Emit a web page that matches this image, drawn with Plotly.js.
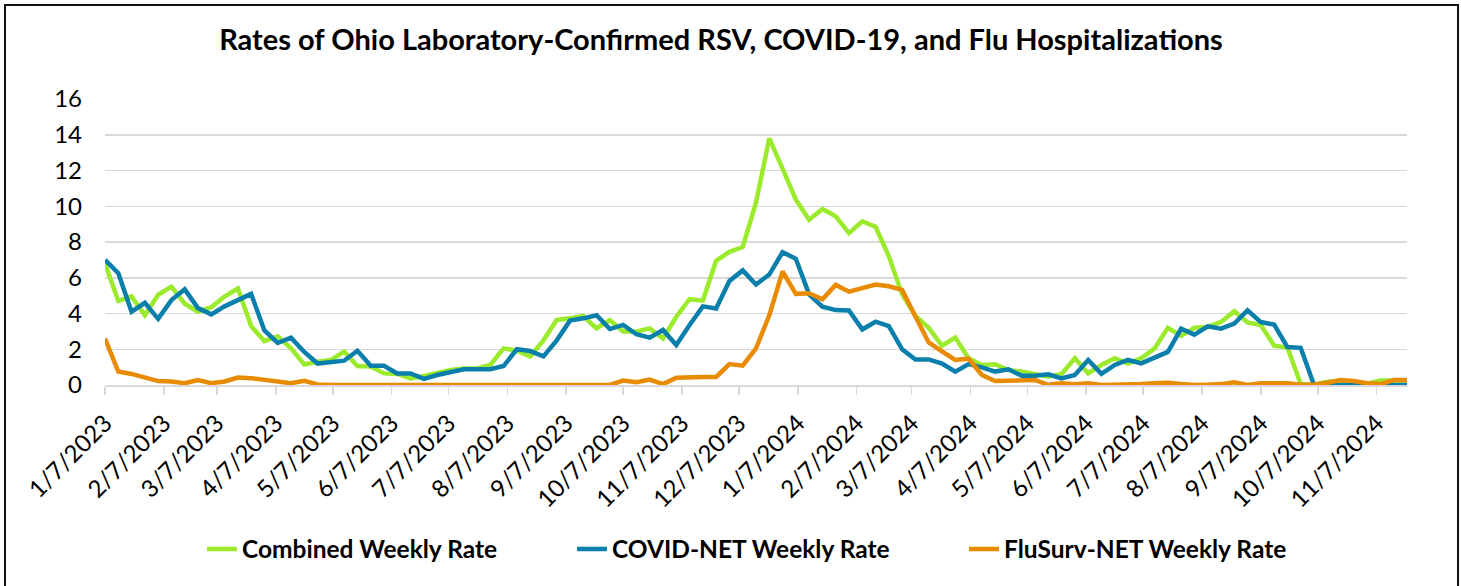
<!DOCTYPE html>
<html>
<head>
<meta charset="utf-8">
<script src="https://cdn.plot.ly/plotly-3.0.1.min.js"></script>
<style>
  html, body { margin: 0; padding: 0; background: #fff; overflow: hidden; }
  #wrap { position: relative; width: 1461px; height: 586px; }
  #chart { position: absolute; left: 0; top: 0; width: 1461px; height: 586px; }
  #frame { position: absolute; left: 4px; top: 4px; width: 1451px; height: 600px; border: 2px solid #111; pointer-events: none; }
</style>
</head>
<body>
<div id="wrap"><div id="chart"></div><div id="frame"></div></div>
<script>
const weekEnding = [
 '2023-01-07','2023-01-14','2023-01-21','2023-01-28','2023-02-04','2023-02-11','2023-02-18','2023-02-25',
 '2023-03-04','2023-03-11','2023-03-18','2023-03-25','2023-04-01','2023-04-08','2023-04-15','2023-04-22','2023-04-29',
 '2023-05-06','2023-05-13','2023-05-20','2023-05-27','2023-06-03','2023-06-10','2023-06-17','2023-06-24',
 '2023-07-01','2023-07-08','2023-07-15','2023-07-22','2023-07-29','2023-08-05','2023-08-12','2023-08-19','2023-08-26',
 '2023-09-02','2023-09-09','2023-09-16','2023-09-23','2023-09-30','2023-10-07','2023-10-14','2023-10-21','2023-10-28',
 '2023-11-04','2023-11-11','2023-11-18','2023-11-25','2023-12-02','2023-12-09','2023-12-16','2023-12-23','2023-12-30',
 '2024-01-06','2024-01-13','2024-01-20','2024-01-27','2024-02-03','2024-02-10','2024-02-17','2024-02-24',
 '2024-03-02','2024-03-09','2024-03-16','2024-03-23','2024-03-30','2024-04-06','2024-04-13','2024-04-20','2024-04-27',
 '2024-05-04','2024-05-11','2024-05-18','2024-05-25','2024-06-01','2024-06-08','2024-06-15','2024-06-22','2024-06-29',
 '2024-07-06','2024-07-13','2024-07-20','2024-07-27','2024-08-03','2024-08-10','2024-08-17','2024-08-24','2024-08-31',
 '2024-09-07','2024-09-14','2024-09-21','2024-09-28','2024-10-05','2024-10-12','2024-10-19','2024-10-26',
 '2024-11-02','2024-11-09','2024-11-16','2024-11-23'
];

const combinedRate = [
 6.8, 4.7, 4.95, 3.9, 5.05, 5.5, 4.55, 4.1, 4.35, 4.95,
 5.4, 3.3, 2.45, 2.72, 2.05, 1.15, 1.3, 1.4, 1.87, 1.06,
 1.03, 0.65, 0.62, 0.37, 0.5, 0.7, 0.84, 0.93, 0.93, 1.12,
 2.05, 1.92, 1.6, 2.5, 3.64, 3.73, 3.86, 3.17, 3.64, 3.0,
 3.0, 3.17, 2.6, 3.82, 4.8, 4.72, 6.95, 7.45, 7.72, 10.2,
 13.8, 12.1, 10.37, 9.25, 9.85, 9.44, 8.5, 9.16, 8.85, 7.2,
 5.07, 3.87, 3.2, 2.2, 2.65, 1.5, 1.12, 1.16, 0.84, 0.75,
 0.62, 0.47, 0.62, 1.5, 0.65, 1.12, 1.5, 1.2, 1.5, 2.05,
 3.2, 2.75, 3.2, 3.25, 3.53, 4.13, 3.5, 3.35, 2.2, 2.1,
 0.06, 0.02, 0.18, 0.22, 0.12, 0.07, 0.25, 0.25, 0.25
];

const covidRate = [
 7.0, 6.25, 4.1, 4.6, 3.7, 4.75, 5.35, 4.3, 3.95, 4.4,
 4.75, 5.1, 3.05, 2.35, 2.65, 1.85, 1.2, 1.27, 1.36, 1.92,
 1.08, 1.08, 0.65, 0.65, 0.34, 0.56, 0.75, 0.88, 0.88, 0.88,
 1.06, 2.0, 1.9, 1.6, 2.5, 3.6, 3.73, 3.9, 3.13, 3.36,
 2.84, 2.65, 3.08, 2.24, 3.36, 4.4, 4.28, 5.82, 6.41, 5.62,
 6.18, 7.43, 7.06, 5.07, 4.38, 4.19, 4.17, 3.11, 3.54, 3.3,
 2.0, 1.43, 1.43, 1.2, 0.75, 1.17, 0.99, 0.75, 0.88, 0.52,
 0.52, 0.6, 0.37, 0.56, 1.4, 0.62, 1.12, 1.4, 1.21, 1.5,
 1.85, 3.15, 2.82, 3.28, 3.15, 3.43, 4.18, 3.52, 3.38, 2.12,
 2.08, 0, 0, 0.02, 0.02, 0.02, 0, 0, 0
];

const fluRate = [
 2.6, 0.75, 0.62, 0.4, 0.22, 0.2, 0.1, 0.28, 0.1, 0.2,
 0.42, 0.38, 0.27, 0.16, 0.1, 0.23, 0.03, 0, 0, 0,
 0, 0, 0, 0, 0, 0, 0, 0, 0, 0,
 0, 0, 0, 0, 0, 0, 0, 0, 0, 0.25,
 0.15, 0.3, 0.05, 0.4, 0.45, 0.45, 0.45, 1.17, 1.08, 2.05,
 3.9, 6.35, 5.1, 5.13, 4.8, 5.6, 5.22, 5.42, 5.62, 5.52,
 5.32, 3.83, 2.38, 1.88, 1.4, 1.47, 0.56, 0.22, 0.22, 0.28,
 0.28, 0.01, 0.1, 0.04, 0.1, 0, 0, 0.04, 0.06, 0.1,
 0.12, 0.05, 0, 0.02, 0.05, 0.15, 0, 0.1, 0.1, 0.1,
 0.02, 0.02, 0.13, 0.28, 0.22, 0.1, 0.05, 0.28, 0.28
];

const seriesNames = ['Combined Weekly Rate', 'COVID-NET Weekly Rate', 'FluSurv-NET Weekly Rate'];
const seriesColors = ['#9BEB2C', '#0B7FAB', '#E98B00'];
const seriesValues = [combinedRate, covidRate, fluRate];
const legendIds = ['legend', 'legend2', 'legend3'];

const traces = seriesValues.map((vals, i) => ({
  type: 'scatter',
  mode: 'lines',
  x: weekEnding,
  y: vals,
  name: seriesNames[i],
  legend: legendIds[i],
  line: { color: seriesColors[i], width: 4.5, shape: 'linear' },
  hoverinfo: 'x+y+name'
}));

const fam = 'Lato, "Open Sans", sans-serif';
const tickFont = { family: fam, size: 24, color: '#000' };
const legendFont = { family: fam, size: 24.5, color: '#000', weight: 'bold' };

function legendAt(textLeft) {
  return {
    orientation: 'h',
    xref: 'container', yref: 'container',
    x: (textLeft - 41) / 1461, xanchor: 'left',
    y: 1 - 549 / 586, yanchor: 'middle',
    font: legendFont,
    bgcolor: 'rgba(0,0,0,0)'
  };
}

const layout = {
  width: 1461,
  height: 586,
  paper_bgcolor: '#fff',
  plot_bgcolor: '#fff',
  margin: { l: 105, r: 54, t: 99, b: 201 },
  title: {
    text: 'Rates of Ohio Laboratory-Confirmed RSV, COVID-19, and Flu Hospitalizations',
    font: { family: fam, size: 29, color: '#000', weight: 'bold' },
    xref: 'container', x: 721 / 1461, xanchor: 'center',
    yref: 'container', y: 1 - 40 / 586, yanchor: 'middle'
  },
  xaxis: {
    type: 'date',
    range: ['2023-01-07', '2024-11-23'],
    tick0: '2023-01-07',
    dtick: 'M1',
    tickformat: '%-m/%-d/%Y',
    tickangle: -45,
    tickfont: tickFont,
    ticks: 'outside',
    ticklen: 8,
    tickwidth: 1.5,
    tickcolor: '#D9D9D9',
    showline: true,
    linecolor: '#D9D9D9',
    linewidth: 1.5,
    showgrid: false,
    zeroline: false,
    ticklabelstandoff: 5,
    fixedrange: true
  },
  yaxis: {
    range: [0, 16],
    dtick: 2,
    tick0: 0,
    tickfont: tickFont,
    showgrid: true,
    gridcolor: '#D9D9D9',
    gridwidth: 1.5,
    zeroline: false,
    showline: false,
    ticks: '',
    ticklabelstandoff: 22,
    fixedrange: true
  },
  showlegend: true,
  legend: legendAt(243),
  legend2: legendAt(613),
  legend3: legendAt(1005)
};

Plotly.newPlot('chart', traces, layout, { displayModeBar: false, staticPlot: true });
</script>
</body>
</html>
